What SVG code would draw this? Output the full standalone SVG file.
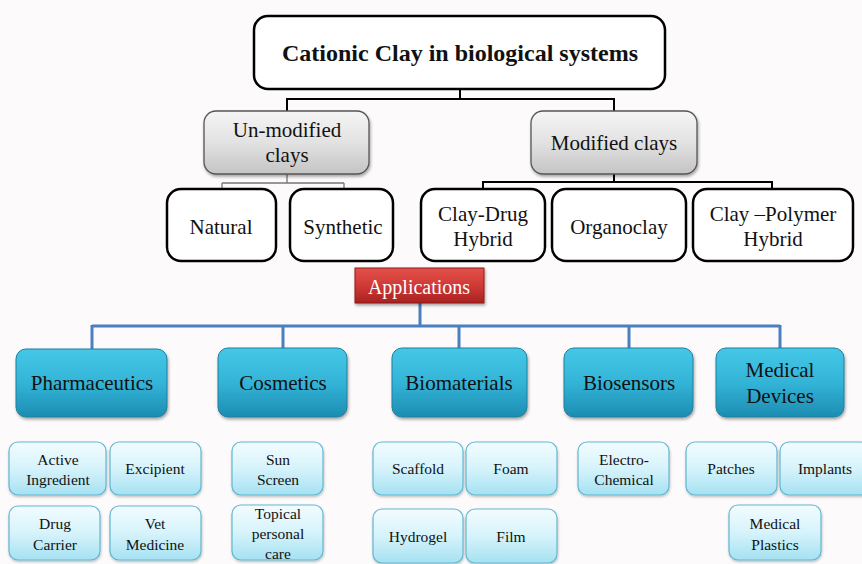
<svg xmlns="http://www.w3.org/2000/svg" width="862" height="564" viewBox="0 0 862 564">
<defs>
<linearGradient id="gGray" x1="0" y1="0" x2="0" y2="1"><stop offset="0" stop-color="#f5f5f5"/><stop offset="0.5" stop-color="#e2e2e2"/><stop offset="1" stop-color="#c4c4c4"/></linearGradient>
<linearGradient id="gBlue" x1="0" y1="0" x2="0" y2="1"><stop offset="0" stop-color="#45c8e6"/><stop offset="0.5" stop-color="#33b4d8"/><stop offset="1" stop-color="#1c8db1"/></linearGradient>
<linearGradient id="gLight" x1="0" y1="0" x2="0" y2="1"><stop offset="0" stop-color="#f2fcff"/><stop offset="0.5" stop-color="#d6f3fb"/><stop offset="1" stop-color="#a5e1f2"/></linearGradient>
<linearGradient id="gRed" x1="0" y1="0" x2="0" y2="1"><stop offset="0" stop-color="#e4504a"/><stop offset="0.5" stop-color="#cf3a36"/><stop offset="1" stop-color="#a82222"/></linearGradient>
<filter id="sh" x="-10%" y="-10%" width="125%" height="135%"><feDropShadow dx="1" dy="2" stdDeviation="1.8" flood-color="#000" flood-opacity="0.35"/></filter>
<filter id="shL" x="-10%" y="-10%" width="125%" height="135%"><feDropShadow dx="0.5" dy="1.5" stdDeviation="1.2" flood-color="#000" flood-opacity="0.25"/></filter>
</defs>
<style>
text{font-family:'Liberation Serif','Times New Roman',serif;text-anchor:middle;fill:#111}
.ccT{font-size:24px;font-weight:bold}
.ccM{font-size:21px}
.ccS{font-size:15.5px}
.ccA{font-size:20px;fill:#fff}
.ccW{fill:#fff;stroke:#000;stroke-width:2.5}
.ccG{fill:url(#gGray);stroke:#555;stroke-width:1.3;filter:url(#sh)}
.ccB{fill:url(#gBlue);stroke:#1f7f9e;stroke-width:1;filter:url(#sh)}
.ccL{fill:url(#gLight);stroke:#62b7d0;stroke-width:1.2;filter:url(#shL)}
.ccR{fill:url(#gRed);stroke:#8e1c1c;stroke-width:1;filter:url(#sh)}
.ccK{fill:none;stroke:#000;stroke-width:2}
.ccY{fill:none;stroke:#777;stroke-width:1.3}
.ccU{fill:none;stroke:#4a7fc0;stroke-width:3}
</style>
<rect width="862" height="564" fill="#fcfafb"/>

<g id="connectors">
<path class="ccK" d="M460 89V99M287 99H614M287 98V111M614 98V111"/>
<path class="ccY" d="M287 174V183M222 183H344M222 183V190M344 183V190"/>
<path class="ccK" d="M614 174V182M483 182H772M483 181V190M772 181V190"/>
<path class="ccU" d="M420 303V326M92 326H780M92 325V349M283 325V349M459 325V349M629 325V349M780 325V349"/>
</g>

<g id="n-title"><rect class="ccW" x="254" y="16" width="411" height="73" rx="14"/><text class="ccT" x="460" y="61">Cationic Clay in biological systems</text></g>

<g id="n-unmod"><rect class="ccG" x="204" y="111" width="165" height="63" rx="12"/><text class="ccM" x="287" y="137">Un-modified</text><text class="ccM" x="287" y="162">clays</text></g>
<g id="n-mod"><rect class="ccG" x="531" y="111" width="166" height="63" rx="12"/><text class="ccM" x="614" y="150">Modified clays</text></g>

<g id="n-natural"><rect class="ccW" x="167" y="189" width="109" height="72" rx="14"/><text class="ccM" x="221" y="234">Natural</text></g>
<g id="n-synthetic"><rect class="ccW" x="290" y="189" width="103" height="72" rx="14"/><text class="ccM" x="343" y="234">Synthetic</text></g>
<g id="n-claydrug"><rect class="ccW" x="421" y="189" width="124" height="72" rx="14"/><text class="ccM" x="483" y="221">Clay-Drug</text><text class="ccM" x="483" y="246">Hybrid</text></g>
<g id="n-organoclay"><rect class="ccW" x="552" y="189" width="134" height="72" rx="14"/><text class="ccM" x="619" y="234">Organoclay</text></g>
<g id="n-claypoly"><rect class="ccW" x="693" y="189" width="160" height="72" rx="14"/><text class="ccM" x="773" y="221">Clay &#8211;Polymer</text><text class="ccM" x="773" y="246">Hybrid</text></g>

<g id="n-applications"><rect class="ccR" x="355" y="268" width="129" height="35"/><text class="ccA" x="419" y="294">Applications</text></g>

<g id="n-pharma"><rect class="ccB" x="16" y="349" width="151" height="68" rx="10"/><text class="ccM" x="92" y="390">Pharmaceutics</text></g>
<g id="n-cosmetics"><rect class="ccB" x="218" y="348" width="129" height="69" rx="10"/><text class="ccM" x="283" y="390">Cosmetics</text></g>
<g id="n-biomaterials"><rect class="ccB" x="392" y="348" width="135" height="69" rx="10"/><text class="ccM" x="459" y="390">Biomaterials</text></g>
<g id="n-biosensors"><rect class="ccB" x="564" y="348" width="129" height="69" rx="10"/><text class="ccM" x="629" y="390">Biosensors</text></g>
<g id="n-meddev"><rect class="ccB" x="716" y="348" width="128" height="69" rx="10"/><text class="ccM" x="780" y="377">Medical</text><text class="ccM" x="780" y="403">Devices</text></g>

<g id="n-active"><rect class="ccL" x="9" y="442" width="97" height="53" rx="9"/><text class="ccS" x="58" y="465">Active</text><text class="ccS" x="58" y="485">Ingredient</text></g>
<g id="n-excipient"><rect class="ccL" x="110" y="442" width="91" height="53" rx="9"/><text class="ccS" x="155" y="474">Excipient</text></g>
<g id="n-drugcarrier"><rect class="ccL" x="9" y="506" width="91" height="54" rx="9"/><text class="ccS" x="55" y="529">Drug</text><text class="ccS" x="55" y="550">Carrier</text></g>
<g id="n-vet"><rect class="ccL" x="110" y="506" width="91" height="54" rx="9"/><text class="ccS" x="155" y="529">Vet</text><text class="ccS" x="155" y="550">Medicine</text></g>
<g id="n-sunscreen"><rect class="ccL" x="232" y="442" width="91" height="53" rx="9"/><text class="ccS" x="278" y="465">Sun</text><text class="ccS" x="278" y="485">Screen</text></g>
<g id="n-topical"><rect class="ccL" x="232" y="505" width="91" height="55" rx="9"/><text class="ccS" x="278" y="519">Topical</text><text class="ccS" x="278" y="539">personal</text><text class="ccS" x="278" y="559">care</text></g>
<g id="n-scaffold"><rect class="ccL" x="373" y="442" width="90" height="53" rx="9"/><text class="ccS" x="418" y="474">Scaffold</text></g>
<g id="n-foam"><rect class="ccL" x="466" y="442" width="91" height="53" rx="9"/><text class="ccS" x="511" y="474">Foam</text></g>
<g id="n-hydrogel"><rect class="ccL" x="373" y="509" width="90" height="54" rx="9"/><text class="ccS" x="418" y="542">Hydrogel</text></g>
<g id="n-film"><rect class="ccL" x="466" y="509" width="91" height="54" rx="9"/><text class="ccS" x="511" y="542">Film</text></g>
<g id="n-electro"><rect class="ccL" x="578" y="442" width="91" height="53" rx="9"/><text class="ccS" x="624" y="465">Electro-</text><text class="ccS" x="624" y="485">Chemical</text></g>
<g id="n-patches"><rect class="ccL" x="686" y="442" width="91" height="53" rx="9"/><text class="ccS" x="731" y="474">Patches</text></g>
<g id="n-implants"><rect class="ccL" x="780" y="442" width="90" height="53" rx="9"/><text class="ccS" x="825" y="474">Implants</text></g>
<g id="n-medplastics"><rect class="ccL" x="729" y="505" width="92" height="55" rx="9"/><text class="ccS" x="775" y="529">Medical</text><text class="ccS" x="775" y="550">Plastics</text></g>
</svg>
